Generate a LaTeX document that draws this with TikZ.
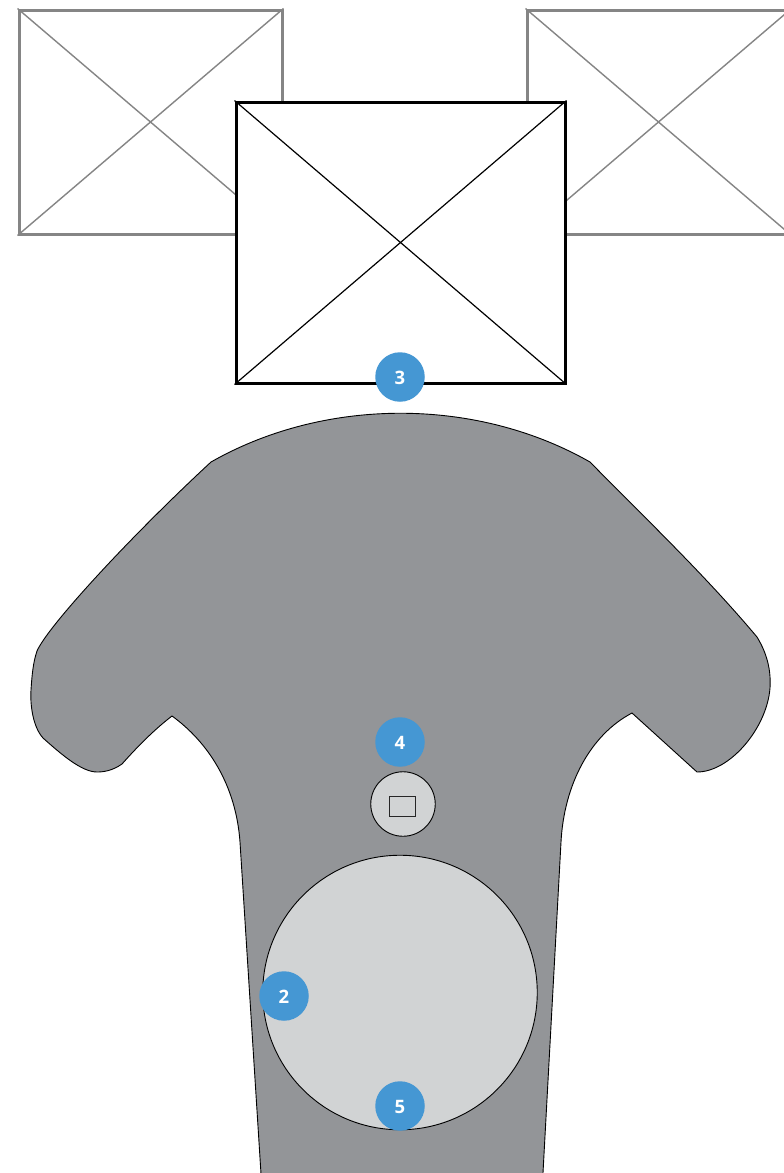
\documentclass[tikz,border=0pt]{standalone}
\usepackage{fontspec}
\setmainfont{Open Sans}
\definecolor{bodygray}{HTML}{939598}
\definecolor{padgray}{HTML}{D1D3D4}
\definecolor{badgeblue}{HTML}{4597D3}
\definecolor{framegray}{HTML}{858585}
\tikzset{
  backbox/.style={draw=framegray,line width=3pt,fill=white,inner sep=0pt,minimum width=#1,minimum height=224pt},
  frontbox/.style={draw=black,line width=3pt,fill=white,inner sep=0pt,minimum width=329pt,minimum height=281pt},
  backcross/.style={draw=framegray,line width=1.4pt},
  frontcross/.style={draw=black,line width=1.2pt},
  padcircle/.style={circle,draw=black,line width=.9pt,fill=padgray,inner sep=0pt,minimum size=#1},
  badge/.style={circle,fill=badgeblue,inner sep=0pt,minimum size=49.5pt},
  badgetext/.style={text=white,inner sep=0pt,font=\fontsize{18.5}{19}\selectfont\bfseries},
  smallrect/.style={draw=black!85,line width=.9pt,inner sep=0pt,minimum width=26pt,minimum height=20pt}
}
\begin{document}
\begin{tikzpicture}[x=1pt,y=-1pt]
\useasboundingbox (0,0) rectangle (784,1173);
\node[backbox=263pt] (bl) at (150.5,122) {};
\draw[backcross] (bl.north west) -- (bl.south east) (bl.north east) -- (bl.south west);
\node[backbox=263pt] (br) at (658.5,122) {};
\draw[backcross] (br.north west) -- (br.south east) (br.north east) -- (br.south west);
\node[frontbox] (fb) at (400.5,242.5) {};
\draw[frontcross] (fb.north west) -- (fb.south east) (fb.north east) -- (fb.south west);
\draw[fill=bodygray,draw=black,line width=.9pt]
  (211,462) .. controls (325,397) and (476,397) .. (590,462)
  .. controls (645,518) and (705,575) .. (757,637)
  .. controls (768,655) and (771,672) .. (770,688)
  .. controls (767,728) and (730,772) .. (697,772)
  -- (632,713)
  .. controls (590,735) and (564,785) .. (561,842)
  -- (542.6,1180) -- (261.4,1180) -- (240,842)
  .. controls (236,785) and (208,742) .. (172,716)
  .. controls (155,729) and (138,746) .. (122,764)
  .. controls (112,771) and (103,772) .. (97,772)
  .. controls (82,772) and (62,755) .. (43,738)
  .. controls (33,727) and (30,705) .. (31,690)
  .. controls (32,675) and (33,663) .. (37,651)
  .. controls (48,626) and (130,537) .. (211,462) -- cycle;
\node[padcircle=274.5pt] (big) at (400,992.5) {};
\node[padcircle=64.5pt] (small) at (403,804) {};
\node[smallrect] (win) at (402.5,806) {};
\node[badge] (b3) at (400,377) {};
\node[badgetext] at (400,378) {3};
\node[badge] (b4) at (400,742) {};
\node[badgetext] at (400,743) {4};
\node[badge] (b2) at (284,996) {};
\node[badgetext] at (284,997) {2};
\node[badge] (b5) at (400,1106) {};
\node[badgetext] at (400,1107) {5};
\end{tikzpicture}
\end{document}
